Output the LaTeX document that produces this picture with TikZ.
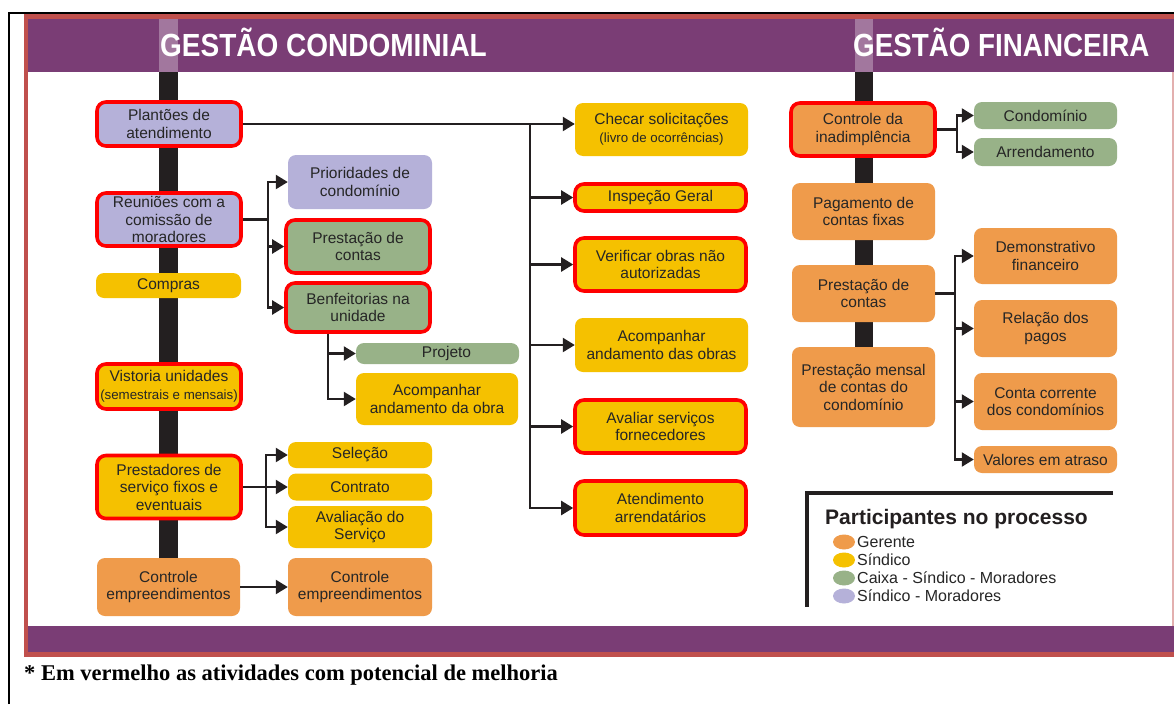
\documentclass[tikz,border=0pt]{standalone}
\usepackage{fontspec}
\setmainfont{Liberation Sans}
\newfontfamily\notefont{Liberation Serif}
\usetikzlibrary{arrows.meta,calc,shapes.geometric}

\definecolor{hdpurple}{HTML}{7A3D75}
\definecolor{framecoral}{HTML}{C0504D}
\definecolor{lav}{HTML}{B5B1D9}
\definecolor{sage}{HTML}{98B288}
\definecolor{gold}{HTML}{F5C100}
\definecolor{tang}{HTML}{EF9B4B}
\definecolor{ink}{HTML}{231F20}
\definecolor{txt}{HTML}{262626}

\newcommand{\smalltxt}{\fontsize{13.3}{15}\selectfont}

\tikzset{
  box/.style={rounded corners=8pt, inner sep=0pt, align=center, text=txt,
    font=\fontsize{15.5}{17.5}\selectfont},
  wh/.style 2 args={minimum width=#1pt, minimum height=#2pt},
  lavbox/.style={box, fill=lav},
  sagebox/.style={box, fill=sage},
  goldbox/.style={box, fill=gold},
  tangbox/.style={box, fill=tang},
  hot/.style={draw=red, line width=3.6pt, rounded corners=9pt},
  link/.style={draw=ink, line width=2.2pt},
  arr/.style={link, -{Triangle[length=12pt,width=14pt]}},
  hdstrip/.style={fill=white, fill opacity=0.3},
  hdtext/.style={text=white, inner sep=0pt, anchor=base west,
    font=\bfseries\fontsize{32}{32}\selectfont},
  legdot/.style={ellipse, minimum width=22pt, minimum height=15pt, inner sep=0pt},
  legtext/.style={anchor=west, inner sep=0pt, text=txt,
    font=\fontsize{16}{18}\selectfont},
}

\begin{document}
\begin{tikzpicture}[x=1pt, y=-1pt]
\useasboundingbox (0,0) rectangle (1174,704);
\fill[white] (0,0) rectangle (1174,704);

% framed banner
\fill[framecoral] (24,14) rectangle (1174,657);
\fill[white] (28,19) rectangle (1174,652);
\fill[hdpurple] (28,19) rectangle (1174,72);
\fill[hdpurple] (28,626) rectangle (1174,652);
\fill[framecoral!45] (1172,72) rectangle (1174,626);
\draw[black, line width=1.6pt] (9,704) -- (9,13) -- (1174,13);

% spines
\fill[hdstrip] (159,19) rectangle (178,72);
\fill[ink] (159,72) rectangle (178,560);
\fill[hdstrip] (855,19) rectangle (873,72);
\fill[ink] (855,72) rectangle (873,350);

% headings
\node[hdtext] (hcond) at (160,56) {\scalebox{0.875}[1]{GESTÃO CONDOMINIAL}};
\node[hdtext] (hfin) at (853,56) {\scalebox{0.868}[1]{GESTÃO FINANCEIRA}};

% condominium management: main column
\node[lavbox, hot, wh={144}{44}] (plant) at (169,124) {Plantões de\\atendimento};
\node[lavbox, hot, wh={144}{53}] (reun) at (169,219.5) {Reuniões com a\\comissão de\\moradores};
\node[goldbox, wh={145}{25}] (compras) at (168.5,285.5) {Compras};
\node[goldbox, hot, wh={144}{45}] (vist) at (169,386.5) {Vistoria unidades\\{\smalltxt(semestrais e mensais)}};
\node[goldbox, hot, wh={144}{63}] (prest) at (169,487) {Prestadores de\\serviço fixos e\\eventuais};
\node[tangbox, wh={143}{58}] (ctrlA) at (168.5,587) {Controle\\empreendimentos};

% condominium management: second column
\node[lavbox, wh={144}{54}] (prio) at (360,182) {Prioridades de\\condomínio};
\node[sagebox, hot, wh={144}{53}] (prestc) at (358,246.5) {Prestação de\\contas};
\node[sagebox, hot, wh={144}{49}] (benf) at (358,307.5) {Benfeitorias na\\unidade};
\node[sagebox, wh={163}{21}] (proj) at (437.5,353.5) {\hspace*{18pt}Projeto};
\node[goldbox, wh={162}{52}] (acomp) at (437,399) {Acompanhar\\andamento da obra};
\node[goldbox, wh={144}{26}] (sel) at (360,455) {Seleção};
\node[goldbox, wh={144}{27}] (contr) at (360,487) {Contrato};
\node[goldbox, wh={144}{42}] (aval) at (360,527) {Avaliação do\\Serviço};
\node[tangbox, wh={144}{58}] (ctrlB) at (360,587) {Controle\\empreendimentos};

% condominium management: third column
\node[goldbox, wh={173}{53}] (chec) at (661.5,129.5) {Checar solicitações\\{\smalltxt(livro de ocorrências)}};
\node[goldbox, hot, wh={171}{27}] (insp) at (660.5,197.5) {Inspeção Geral};
\node[goldbox, hot, wh={171}{53}] (verif) at (660.5,264.5) {Verificar obras não\\autorizadas};
\node[goldbox, wh={173}{54}] (acompo) at (661.5,345) {Acompanhar\\andamento das obras};
\node[goldbox, hot, wh={171}{53}] (avalf) at (660.5,426.5) {Avaliar serviços\\fornecedores};
\node[goldbox, hot, wh={171}{54}] (atend) at (660.5,508) {Atendimento\\arrendatários};

% financial management
\node[tangbox, hot, wh={144}{53}] (inad) at (863,129.5) {Controle da\\inadimplência};
\node[sagebox, wh={143}{27}] (cond) at (1045.5,115.5) {Condomínio};
\node[sagebox, wh={143}{28}] (arrend) at (1045.5,152) {Arrendamento};
\node[tangbox, wh={143}{57}] (pag) at (863.5,211.5) {Pagamento de\\contas fixas};
\node[tangbox, wh={143}{57}] (prestF) at (863.5,293.5) {Prestação de\\contas};
\node[tangbox, wh={143}{80}] (mens) at (863.5,387) {Prestação mensal\\de contas do\\condomínio};
\node[tangbox, wh={143}{56}] (demo) at (1045.5,256) {Demonstrativo\\financeiro};
\node[tangbox, wh={143}{57}] (rel) at (1045.5,328.5) {Relação dos\\pagos};
\node[tangbox, wh={143}{57}] (cc) at (1045.5,401.5) {Conta corrente\\dos condomínios};
\node[tangbox, wh={143}{27}] (val) at (1045.5,459.5) {Valores em atraso};

% connectors
\draw[arr] (plant.east) -- (plant.east -| chec.west);
\path (plant.east) -- ++(287,0) coordinate (tA);
\foreach \t in {insp,verif,acompo,avalf,atend} \draw[arr] (tA) |- (\t.west);

\path (reun.east) -- ++(25,0) coordinate (bR);
\draw[link] (reun.east) -- (bR);
\foreach \t in {prio,prestc,benf} \draw[arr] (bR) |- (\t.west);

\coordinate (bB) at ([xshift=-30pt]benf.south);
\foreach \t in {proj,acomp} \draw[arr] (bB) |- (\t.west);

\path (prest.east) -- ++(23,0) coordinate (bP);
\draw[link] (prest.east) -- (bP);
\foreach \t in {sel,contr,aval} \draw[arr] (bP) |- (\t.west);

\draw[arr] (ctrlA) -- (ctrlB);

\path (inad.east) -- ++(20,0) coordinate (bI);
\draw[link] (inad.east) -- (bI);
\foreach \t in {cond,arrend} \draw[arr] (bI) |- (\t.west);

\path (prestF.east) -- ++(20,0) coordinate (bF);
\draw[link] (prestF.east) -- (bF);
\foreach \t in {demo,rel,cc,val} \draw[arr] (bF) |- (\t.west);

% legend
\draw[ink, line width=4pt] (1113,493) -- (806.5,493) -- (806.5,607);
\node[anchor=base west, inner sep=0pt, text=ink, font=\bfseries\fontsize{21}{24}\selectfont]
  (legtitle) at (825,524) {Participantes no processo};
\node[legdot, fill=tang] (d1) at (844,542) {};
\node[legdot, fill=gold] (d2) at (844,560) {};
\node[legdot, fill=sage] (d3) at (844,578) {};
\node[legdot, fill=lav] (d4) at (844,596) {};
\node[legtext] (l1) at (857,542) {Gerente};
\node[legtext] (l2) at (857,560) {Síndico};
\node[legtext] (l3) at (857,578) {Caixa - Síndico - Moradores};
\node[legtext] (l4) at (857,596) {Síndico - Moradores};

% footnote
\node[anchor=base west, inner sep=0pt, text=black,
  font=\notefont\bfseries\fontsize{22.5}{26}\selectfont]
  (note) at (24,680) {* Em vermelho as atividades com potencial de melhoria};
\end{tikzpicture}
\end{document}
